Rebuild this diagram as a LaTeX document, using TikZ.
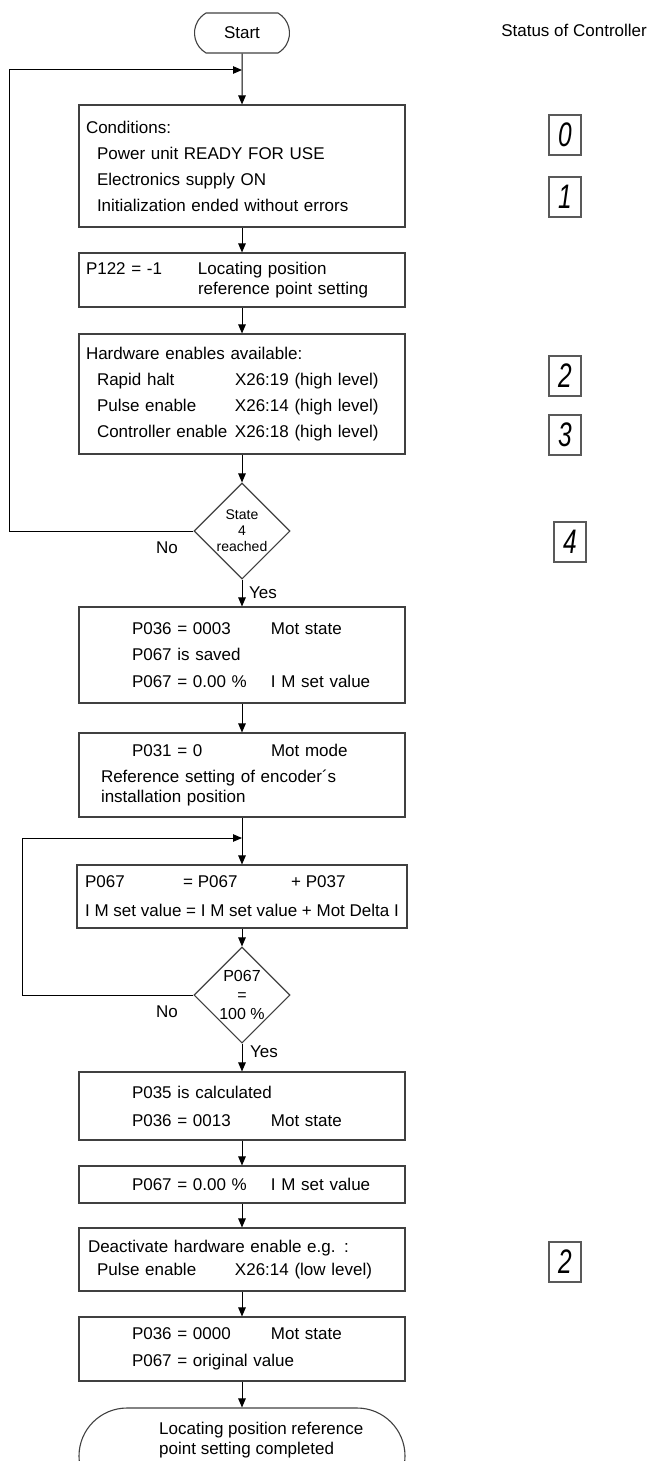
\documentclass[tikz,border=0pt]{standalone}
\usepackage{fontspec}
\setmainfont{Liberation Sans}
\usetikzlibrary{arrows.meta,positioning,shapes.geometric,shapes.misc}
\tikzset{
      boxline/.style={
        draw=black!75,
        line width=1.1pt,
        inner ysep=0pt,
        font=\fontsize{17}{20}\selectfont
      },
      stepbox/.style={
        boxline,
        minimum width=326pt,
        text width=312pt,
        inner xsep=7pt,
        align=left
      },
      widebox/.style={
        boxline,
        minimum width=330pt,
        inner xsep=5pt,
        align=left
      },
      testbox/.style={
        diamond,
        draw=black!75,
        line width=1.1pt,
        minimum width=96pt,
        minimum height=96pt,
        inner sep=0pt,
        align=center
      },
      termbox/.style={
        rounded rectangle,
        draw=black!75,
        line width=1.1pt,
        inner sep=0pt,
        font=\fontsize{17}{20}\selectfont
      },
      digitbox/.style={
        draw=black!65,
        line width=1.4pt,
        minimum width=32pt,
        minimum height=40pt,
        inner sep=0pt,
        font=\fontsize{34}{34}\selectfont
      },
      plaintext/.style={inner sep=0pt, font=\fontsize{17}{20}\selectfont},
      flowarrow/.style={-{Triangle[length=9pt,width=7.5pt]}, line width=1pt}
    }
\newcommand{\segdigit}[1]{\scalebox{0.72}[1]{\itshape #1}}
\newcommand{\colbox}[2]{\makebox[#1][l]{#2}}

\begin{document}
\begin{tikzpicture}[x=1pt,y=-1pt]
    \useasboundingbox (0,0) rectangle (648,1461);
    % flow steps
    \node[termbox, rounded rectangle arc length=120, minimum width=95pt, minimum height=40pt] (start) at (242,33) {Start};
    \node[plaintext, anchor=east] (status) at (647,30) {Status of Controller};
    \node[stepbox, minimum height=122pt] (cond) at (242,166) {Conditions:\\[6pt]
      \hspace*{11pt}Power unit READY FOR USE\\[6pt]
      \hspace*{11pt}Electronics supply ON\\[6pt]
      \hspace*{11pt}Initialization ended without errors};
    \node[stepbox, minimum height=54pt] (setref) at (242,280) {\colbox{112pt}{P122 = -1}Locating position\\
      \hspace*{112pt}reference point setting};
    \node[stepbox, minimum height=120pt] (enables) at (242,394) {Hardware enables available:\\[6pt]
      \hspace*{11pt}\colbox{138pt}{Rapid halt}X26:19 (high level)\\[6pt]
      \hspace*{11pt}\colbox{138pt}{Pulse enable}X26:14 (high level)\\[6pt]
      \hspace*{11pt}\colbox{138pt}{Controller enable}X26:18 (high level)};
    \node[testbox, font=\fontsize{14}{16}\selectfont] (state4) at (242,531) {State\\4\\reached};
    \node[stepbox, minimum height=96pt] (motstate) at (242,655) {\hspace*{46pt}\colbox{139pt}{P036 = 0003}Mot state\\[6.5pt]
      \hspace*{46pt}P067 is saved\\[6.5pt]
      \hspace*{46pt}\colbox{139pt}{P067 = 0.00 \%}I M set value};
    \node[stepbox, minimum height=84pt] (motmode) at (242,775) {\hspace*{46pt}\colbox{139pt}{P031 = 0}Mot mode\\[6pt]
      \hspace*{15pt}Reference setting of encoder´s\\
      \hspace*{15pt}installation position};
    \node[widebox, minimum height=63pt] (ramp) at (242,896.5) {\colbox{98pt}{P067}\colbox{108pt}{= P067}+ P037\\[9pt]
      I M set value = I M set value + Mot Delta I};
    \node[testbox, font=\fontsize{16}{19}\selectfont] (full) at (242,995) {P067\\=\\100 \%};
    \node[stepbox, minimum height=68pt] (calc) at (242,1106) {\hspace*{46pt}P035 is calculated\\[8pt]
      \hspace*{46pt}\colbox{139pt}{P036 = 0013}Mot state};
    \node[stepbox, minimum height=37pt] (zeroset) at (242,1184.5) {\hspace*{46pt}\colbox{139pt}{P067 = 0.00 \%}I M set value};
    \node[stepbox, minimum height=63pt] (disable) at (242,1259.5) {\hspace*{2pt}Deactivate hardware enable e.g. :\\[3pt]
      \hspace*{11pt}\colbox{138pt}{Pulse enable}X26:14 (low level)};
    \node[stepbox, minimum height=64pt] (restore) at (242,1349) {\hspace*{46pt}\colbox{139pt}{P036 = 0000}Mot state\\[7pt]
      \hspace*{46pt}P067 = original value};
    \node[termbox, minimum width=326pt, minimum height=96pt] (finish) at (242,1456) {};
    \node[plaintext, anchor=west, align=left] (finishtext) at (159,1440) {Locating position reference\\point setting completed};
    % controller states
    \node[digitbox] (s0) at (565,135) {\segdigit{0}};
    \node[digitbox] (s1) at (565,197) {\segdigit{1}};
    \node[digitbox] (s2) at (565,376) {\segdigit{2}};
    \node[digitbox] (s3) at (565,435) {\segdigit{3}};
    \node[digitbox] (s4) at (570,542) {\segdigit{4}};
    \node[digitbox] (s2b) at (565,1262) {\segdigit{2}};
    % branch labels
    \node[plaintext] (no1) at (167,548) {No};
    \node[plaintext] (yes1) at (263,593) {Yes};
    \node[plaintext] (no2) at (167,1012) {No};
    \node[plaintext] (yes2) at (264,1052) {Yes};
    % connectors
    \coordinate (join1) at (242,70);
    \coordinate (join2) at (242,838);
    \draw[flowarrow] (start) -- (cond);
    \draw[flowarrow] (cond) -- (setref);
    \draw[flowarrow] (setref) -- (enables);
    \draw[flowarrow] (enables) -- (state4);
    \draw[flowarrow] (state4) -- (motstate);
    \draw[flowarrow] (motstate) -- (motmode);
    \draw[flowarrow] (motmode) -- (ramp);
    \draw[flowarrow] (ramp) -- (full);
    \draw[flowarrow] (full) -- (calc);
    \draw[flowarrow] (calc) -- (zeroset);
    \draw[flowarrow] (zeroset) -- (disable);
    \draw[flowarrow] (disable) -- (restore);
    \draw[flowarrow] (restore) -- (finish);
    \draw[flowarrow] (state4.west) -- ++(-184,0) |- (join1);
    \draw[flowarrow] (full.west) -- ++(-171,0) |- (join2);
    \end{tikzpicture}
\end{document}
